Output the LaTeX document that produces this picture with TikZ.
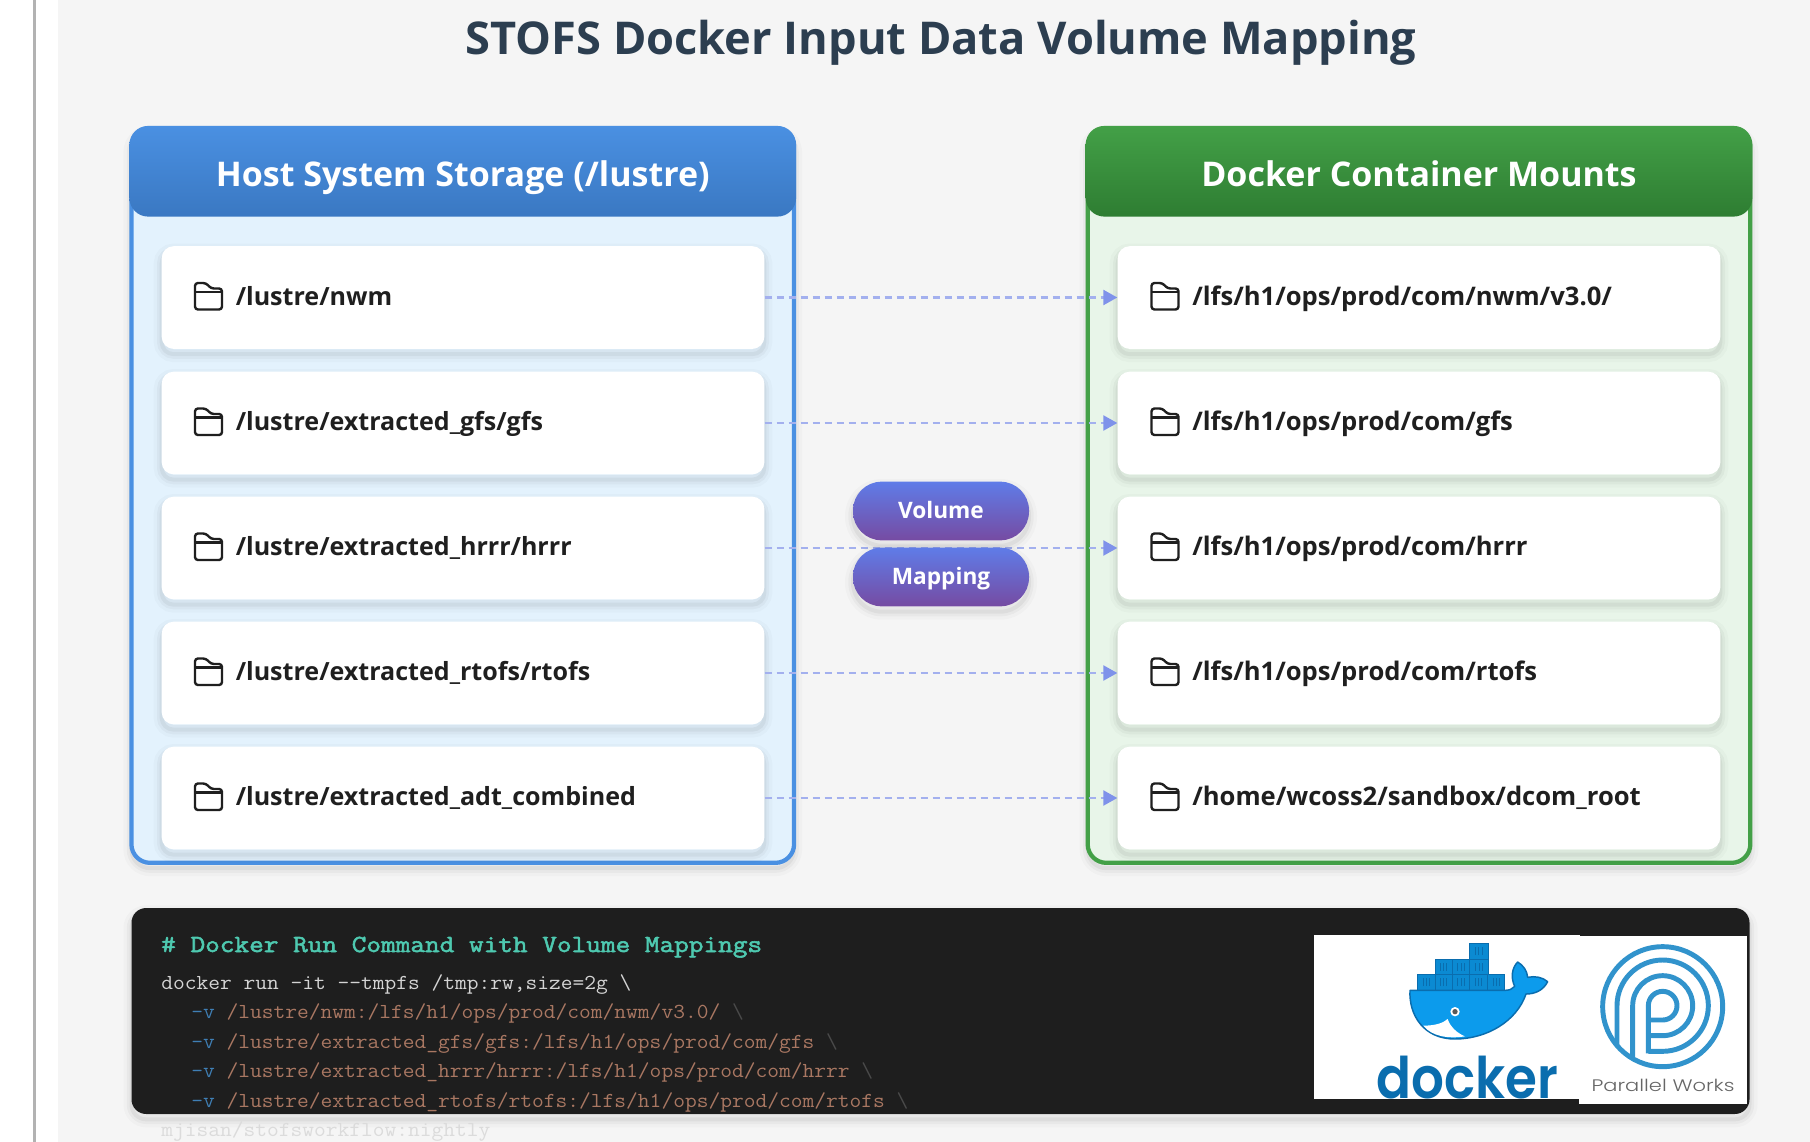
\documentclass[tikz,border=0pt]{standalone}
\usepackage{fontspec}
\setmainfont{Open Sans}
\newfontfamily\dockerfont{Poppins}[UprightFont=* SemiBold,FakeStretch=.9]
\newfontfamily\pwfont{Poppins}[UprightFont=* Light,FakeStretch=1.26]
\newfontfamily\codefont{Latin Modern Mono}[FakeStretch=1.07]
\newfontfamily\codeheadfont{Latin Modern Mono}[FakeBold=2.2,FakeStretch=1.16]
\usetikzlibrary{arrows.meta,shadings,calc}
\definecolor{pagebg}{HTML}{F5F5F5}
\definecolor{titlec}{HTML}{2C3E50}
\definecolor{hostb}{HTML}{4A90E2}
\definecolor{hostd}{HTML}{3A78C2}
\definecolor{hostf}{HTML}{E3F2FD}
\definecolor{contb}{HTML}{43A047}
\definecolor{contd}{HTML}{2E7D32}
\definecolor{contf}{HTML}{E8F5E9}
\definecolor{flowc}{HTML}{A3B0EE}
\definecolor{headc}{HTML}{7F92EA}
\definecolor{pilla}{HTML}{5F7CE8}
\definecolor{pillb}{HTML}{764BA2}
\definecolor{codebg}{HTML}{1E1E1E}
\definecolor{codet}{HTML}{D4D4D4}
\definecolor{codeh}{HTML}{4EC9B0}
\definecolor{codev}{HTML}{3F7FB5}
\definecolor{codep}{HTML}{A97762}
\definecolor{coded}{HTML}{4A4A4A}
\definecolor{dockf}{HTML}{0C9BEC}
\definecolor{dockl}{HTML}{0A6DAE}
\definecolor{dockb}{HTML}{0B8AD2}
\definecolor{pwc}{HTML}{3193CC}
\tikzset{
  softshadow/.style={
    preaction={draw=black,draw opacity=.02,line width=12pt,transform canvas={yshift=-4pt}},
    preaction={draw=black,draw opacity=.03,line width=7pt,transform canvas={yshift=-4pt}},
    preaction={draw=black,draw opacity=.045,line width=3pt,transform canvas={yshift=-4pt}}},
  panel/.style={draw,line width=3.2pt,rounded corners=14pt,inner sep=0pt,minimum width=497pt,minimum height=551pt},
  header/.style={rounded corners=14pt,inner sep=0pt,minimum width=500pt,minimum height=68pt,shading angle=15,
     text=white,text height=30pt,text depth=6.4pt,font=\fontsize{25.5pt}{30pt}\selectfont\bfseries},
  card/.style={fill=white,rounded corners=9pt,inner sep=0pt,minimum width=452pt,minimum height=77pt,softshadow},
  path label/.style={anchor=base west,inner sep=0pt,text=black!88,font=\fontsize{18.8pt}{24pt}\selectfont\bfseries},
  flow/.style={draw=flowc,line width=2.2pt,dash pattern=on 5.2pt off 3.8pt,-{Triangle[length=10.5pt,width=11pt,color=headc]},shorten >=0pt},
  pill/.style={rounded corners=21.5pt,inner sep=0pt,minimum width=132pt,minimum height=44pt,top color=pilla,bottom color=pillb,
     text=white,text height=16pt,text depth=4.8pt,font=\fontsize{17pt}{20pt}\selectfont\bfseries,softshadow},
  code/.style={anchor=base west,inner sep=0pt,font=\fontsize{16pt}{20pt}\codefont},
  pics/folder/.style={code={
    \draw[black!88,line width=1.8pt,rounded corners=2.2pt,line join=round]
      (0,26.5)--(0,0)--(11,0)--(16,5.5)--(27,5.5)--(27,26.5)--cycle;
    \draw[black!88,line width=1.8pt] (0,9)--(27,9);
  }}
}
\newcommand{\dockerblock}[3]{%
  \draw[dockl,fill=dockb,line width=.7pt] (#1,#2) rectangle +(#3,-46);
  \foreach \sl in {.32,.5,.68}
    \draw[dockl,line width=.5pt] ($(#1,#2)+(#3*\sl,-12)$) -- +(0,-23);
}
\begin{document}
\begin{tikzpicture}[x=.75pt,y=-.75pt]
\useasboundingbox (0,0) rectangle (1810,1142);
\clip (0,0) rectangle (1810,1142);
\fill[white] (0,0) rectangle (58,1142);
\fill[pagebg] (58,0) rectangle (1810,1142);
\fill[black!30] (33,0) rectangle (36,1142);

\node[anchor=base,inner sep=0pt,text=titlec,font=\fontsize{33.9pt}{40pt}\selectfont\bfseries] (title) at (941,54) {STOFS Docker Input Data Volume Mapping};

% panels
\node[panel,draw=hostb,fill=hostf,softshadow] (hostpanel) at (462.75,495.5) {};
\node[panel,draw=contb,fill=contf,softshadow] (contpanel) at (1419,495.5) {};
\node[header,top color=hostb,bottom color=hostd] (hosthead) at (462.75,171.25) {Host System Storage (/lustre)};
\node[header,top color=contb,bottom color=contd] (conthead) at (1419,171.25) {Docker Container Mounts};

% cards
\foreach \n/\cy/\h/\c in {1/297.5/{/lustre/nwm}/{/lfs/h1/ops/prod/com/nwm/v3.0/},
  2/423/{/lustre/extracted\_gfs/gfs}/{/lfs/h1/ops/prod/com/gfs},
  3/548/{/lustre/extracted\_hrrr/hrrr}/{/lfs/h1/ops/prod/com/hrrr},
  4/673/{/lustre/extracted\_rtofs/rtofs}/{/lfs/h1/ops/prod/com/rtofs},
  5/798/{/lustre/extracted\_adt\_combined}/{/home/wcoss2/sandbox/dcom\_root}}{
  \node[card] (h\n) at (463,\cy) {};
  \node[card] (c\n) at (1419,\cy) {};
  \pic at (195,\cy-14.5) {folder};
  \pic at (1151.5,\cy-14.5) {folder};
  \node[path label] (ht\n) at (235.5,\cy+7.5) {\h};
  \node[path label,font=\fontsize{19.2pt}{24pt}\selectfont\bfseries] (ct\n) at (1192,\cy+7.5) {\c};
}
\foreach \n in {1,...,5} \draw[flow] (h\n.east) -- (c\n.west);

\node[pill] (vol) at (941,511) {Volume};
\node[pill] (map) at (941,577) {Mapping};

% code panel
\node[fill=codebg,rounded corners=11pt,inner sep=0pt,minimum width=1213.5pt,minimum height=154.5pt,softshadow] (codebox) at (940.5,1011) {};
\node[code,text=codeh,font=\fontsize{18.4pt}{20pt}\codeheadfont] (ch) at (161,952) {\# Docker Run Command with Volume Mappings};
\node[code,text=codet] (c0) at (161,989) {docker run -it -{}-tmpfs /tmp:rw,size=2g \textbackslash};
\node[code] (c1) at (191,1018) {\textcolor{codev}{-v} \textcolor{codep}{/lustre/nwm:/lfs/h1/ops/prod/com/nwm/v3.0/} \textcolor{coded}{\textbackslash}};
\node[code] (c2) at (191,1048) {\textcolor{codev}{-v} \textcolor{codep}{/lustre/extracted\_gfs/gfs:/lfs/h1/ops/prod/com/gfs} \textcolor{coded}{\textbackslash}};
\node[code] (c3) at (191,1077.5) {\textcolor{codev}{-v} \textcolor{codep}{/lustre/extracted\_hrrr/hrrr:/lfs/h1/ops/prod/com/hrrr} \textcolor{coded}{\textbackslash}};
\node[code] (c4) at (191,1107) {\textcolor{codev}{-v} \textcolor{codep}{/lustre/extracted\_rtofs/rtofs:/lfs/h1/ops/prod/com/rtofs} \textcolor{coded}{\textbackslash}};
\node[code,text=black!14] (c5) at (161,1136) {mjisan/stofsworkflow:nightly};

% docker logo
\fill[white] (1314,935) rectangle (1580,1099);
\begin{scope}[shift={(1380,933)},x=.25pt,y=-.25pt]
  \dockerblock{267}{78}{58}
  \dockerblock{165}{125}{52}\dockerblock{217}{125}{51}\dockerblock{268}{125}{57}
  \dockerblock{113}{171}{52}\dockerblock{165}{171}{52}\dockerblock{217}{171}{51}\dockerblock{268}{171}{54}\dockerblock{322}{171}{52}
  \draw[dockl,fill=dockf,line width=1.1pt,line join=round]
    (90,172) -- (375,172) .. controls (388,172) and (398,168) .. (404,160)
    .. controls (392,135) and (395,105) .. (413,87)
    .. controls (430,97) and (441,113) .. (443,133)
    .. controls (465,128) and (488,133) .. (503,146)
    .. controls (490,172) and (465,183) .. (438,183)
    .. controls (410,265) and (320,318) .. (225,318)
    .. controls (130,318) and (86,245) .. (90,172) -- cycle;
  \fill[white] (130,278) .. controls (165,278) and (190,270) .. (203,258)
    .. controls (210,280) and (230,300) .. (255,310)
    .. controls (205,318) and (155,310) .. (130,278) -- cycle;
  \fill[white] (225,236) circle[radius=14];
  \fill[black!65] (225,236) circle[radius=8];
\end{scope}
\node[anchor=base west,inner sep=0pt,text=dockl,font=\fontsize{43pt}{50pt}\dockerfont] (dockertext) at (1376,1098) {docker};

% parallel works logo
\fill[white] (1579,936) rectangle (1747,1104);
\begin{scope}[shift={(1580,934)},x=.25pt,y=-.25pt]
  \begin{scope}[pwc,line width=3.7pt,line join=round]
    \draw (248,218) circle[radius=180];
    \draw (205,358) -- (205,215) arc[start angle=180,end angle=450,radius=43] -- (205,258);
    \draw (205,305) -- (248,305) arc[start angle=90,end angle=-180,radius=90] -- (158,372);
    \draw (205,352) -- (248,352) arc[start angle=90,end angle=-180,radius=137] -- (111,335);
  \end{scope}
\end{scope}
\node[anchor=base,inner sep=0pt,text=black!60,font=\fontsize{12.5pt}{14pt}\pwfont] (pwtext) at (1663,1091) {Parallel Works};
\end{tikzpicture}
\end{document}
